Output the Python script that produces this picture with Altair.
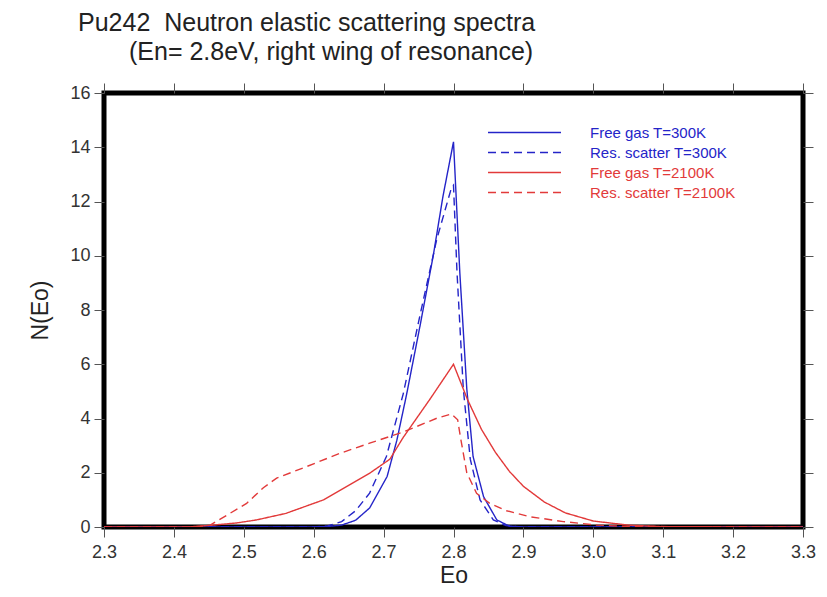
import altair as alt
import pandas as pd

# ---- data ----
fg300_x = [2.30, 2.60, 2.62, 2.64, 2.66, 2.68, 2.705, 2.719, 2.733, 2.752, 2.771, 2.785, 2.80,
           2.809, 2.819, 2.828, 2.843, 2.862, 2.88, 2.90, 3.30]
fg300_y = [0, 0, 0.02, 0.07, 0.25, 0.7, 1.86, 3.2, 4.9, 7.4, 10.0, 12.2, 14.2,
           9.4, 5.1, 2.6, 1.12, 0.26, 0.03, 0, 0]

rs300_x = [2.30, 2.60, 2.62, 2.64, 2.66, 2.68, 2.704, 2.728, 2.752, 2.776, 2.797, 2.80,
           2.805, 2.814, 2.824, 2.838, 2.857, 2.875, 2.90, 3.30]
rs300_y = [0, 0, 0.04, 0.2, 0.6, 1.25, 2.6, 4.9, 7.8, 10.6, 12.5, 12.6,
           9.4, 5.1, 2.5, 1.0, 0.26, 0.05, 0, 0]

fg2100_x = [2.30, 2.42, 2.456, 2.49, 2.518, 2.56, 2.614, 2.661, 2.681, 2.709, 2.728, 2.766, 2.80,
            2.82, 2.84, 2.86, 2.88, 2.90, 2.93, 2.96, 3.00, 3.05, 3.10, 3.30]
fg2100_y = [0, 0, 0.07, 0.15, 0.26, 0.5, 1.0, 1.7, 2.0, 2.5, 3.3, 4.7, 6.0,
            4.7, 3.6, 2.75, 2.05, 1.5, 0.92, 0.52, 0.22, 0.07, 0.01, 0]

rs2100_x = [2.30, 2.43, 2.452, 2.48, 2.504, 2.528, 2.547, 2.59, 2.638, 2.68, 2.728, 2.776, 2.797,
            2.806, 2.81, 2.819, 2.833, 2.852, 2.876, 2.909, 2.957, 3.005, 3.05, 3.30]
rs2100_y = [0, 0, 0.07, 0.5, 0.87, 1.45, 1.8, 2.23, 2.72, 3.09, 3.5, 4.01, 4.17,
            3.95, 3.3, 2.0, 1.24, 0.87, 0.6, 0.38, 0.2, 0.07, 0.02, 0]

series_names = ["Free gas T=300K", "Res. scatter T=300K", "Free gas T=2100K", "Res. scatter T=2100K"]
series_colors = ["#2424c8", "#2424c8", "#e23a3a", "#e23a3a"]
series_dash = [[1, 0], [8, 5], [1, 0], [8, 5]]

x_ticks = [2.3, 2.4, 2.5, 2.6, 2.7, 2.8, 2.9, 3.0, 3.1, 3.2, 3.3]
y_ticks = [0, 2, 4, 6, 8, 10, 12, 14, 16]

title_line1 = "Pu242\u00a0 Neutron elastic scattering spectra"
title_line2 = "(En= 2.8eV, right wing of resonance)"

rows = []
for name, xs, ys in zip(series_names,
                        [fg300_x, rs300_x, fg2100_x, rs2100_x],
                        [fg300_y, rs300_y, fg2100_y, rs2100_y]):
    for i, (a, b) in enumerate(zip(xs, ys)):
        rows.append({"series": name, "Eo": a, "N": b, "order": i})
df = pd.DataFrame(rows)

FONT = "Liberation Sans"
xscale = alt.Scale(domain=[2.3, 3.3], nice=False, zero=False)
yscale = alt.Scale(domain=[0, 16], nice=False)

label_color_expr = "indexof(datum.label, '2100K') >= 0 ? '#e23a3a' : '#2424c8'"

lines = alt.Chart(df).mark_line(strokeWidth=1.4, clip=True).encode(
    x=alt.X("Eo:Q", scale=xscale,
            axis=alt.Axis(orient="bottom", values=x_ticks, format=".1f", title="Eo",
                          labelFlush=False, labelOverlap=False, labelPadding=6,
                          titleY=48, titleBaseline="middle")),
    y=alt.Y("N:Q", scale=yscale,
            axis=alt.Axis(orient="left", values=y_ticks, title="N(Eo)",
                          titleX=-64, titleY=217, titleAlign="center",
                          titleBaseline="middle", titleAngle=270)),
    color=alt.Color("series:N",
                    scale=alt.Scale(domain=series_names, range=series_colors),
                    sort=series_names,
                    legend=alt.Legend(orient="none", legendX=411, legendY=30, title=None,
                                      symbolType="M-4.2,0H4.2", symbolSize=302,
                                      symbolStrokeWidth=1.3, labelOffset=56,
                                      labelFont=FONT, labelFontSize=15,
                                      labelColor=alt.ExprRef(expr=label_color_expr),
                                      rowPadding=2, padding=0)),
    strokeDash=alt.StrokeDash("series:N",
                              scale=alt.Scale(domain=series_names, range=series_dash),
                              sort=series_names, legend=None),
    order="order:Q",
)

extra_axes = alt.Chart(df).mark_line(opacity=0).encode(
    x=alt.X("Eo:Q", scale=xscale,
            axis=alt.Axis(orient="top", values=x_ticks, labels=False, title=None)),
    y=alt.Y("N:Q", scale=yscale,
            axis=alt.Axis(orient="right", values=y_ticks, labels=False, title=None)),
    detail="series:N",
)

t1 = alt.Chart(pd.DataFrame({"t": [title_line1]})).mark_text(
    align="left", baseline="middle", font=FONT, fontSize=25, color="#222222"
).encode(text="t:N", x=alt.value(-26), y=alt.value(-70))

t2 = alt.Chart(pd.DataFrame({"t": [title_line2]})).mark_text(
    align="left", baseline="middle", font=FONT, fontSize=25, color="#222222"
).encode(text="t:N", x=alt.value(25), y=alt.value(-41))

chart = alt.layer(lines, extra_axes, t1, t2).resolve_axis(
    x="independent", y="independent"
).properties(
    width=699, height=434,
    background="white",
    autosize=alt.AutoSizeParams(type="none"),
    padding={"left": 96, "top": 85, "right": 16, "bottom": 62},
).configure_view(
    stroke="black", strokeWidth=5
).configure_axis(
    domain=False, grid=False, tickSize=10, tickColor="#555555", tickWidth=1,
    labelFont=FONT, labelFontSize=18, labelColor="#333333", labelPadding=4,
    titleFont=FONT, titleFontSize=23, titleFontWeight="normal", titleColor="#222222",
)

chart.save("out.html", embed_options={"renderer": "svg", "actions": False})
